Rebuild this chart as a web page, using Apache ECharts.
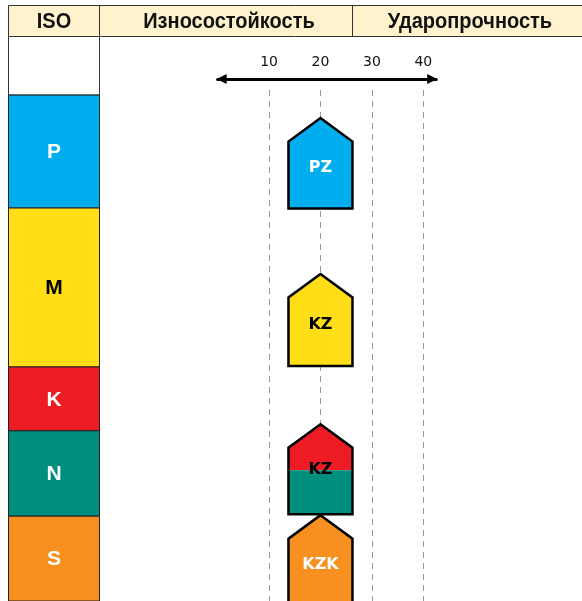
<!DOCTYPE html>
<html>
<head>
<meta charset="utf-8">
<script src="https://cdn.jsdelivr.net/npm/echarts@6/dist/echarts.min.js"></script>
<style>
html,body{margin:0;padding:0;background:#fff;}
#chart{width:582px;height:601px;}
</style>
</head>
<body>
<div id="chart"></div>
<script>
// ---- data ----
const headers = ['ISO', 'Износостойкость', 'Ударопрочность'];
const isoGroups = ['P', 'M', 'K', 'N', 'S'];
const isoStart = [1.0, 23.1, 54.2, 66.7, 83.4];
const isoEnd = [23.1, 54.2, 66.7, 83.4, 100];
const gradeNames = ['PZ', 'KZ', 'KZ', 'KZK'];
const gradeCenter = [20, 20, 20, 20];
const gradeTop = [5.5, 36.0, 65.4, 83.2];
const gradeSplit = [null, null, 74.4, null];
const gradeBottom = [23.2, 54.0, 83.0, 100.6];
const gradeUpperGroup = ['P', 'M', 'K', 'S'];
const gradeLowerGroup = ['P', 'M', 'N', 'S'];
const scaleMin = 0, scaleMax = 42.5, scaleStep = 10;

// ---- styles ----
const groupColor = { P: '#00AEEF', M: '#FFDE17', K: '#ED1C24', N: '#008E7F', S: '#F7901E' };
const groupText = { P: '#ffffff', M: '#000000', K: '#ffffff', N: '#ffffff', S: '#ffffff' };
const gradeText = ['#ffffff', '#000000', '#000000', '#ffffff'];
const headerFont = 'bold 20px "Liberation Sans", Arial, sans-serif';

const chart = echarts.init(document.getElementById('chart'), null, { renderer: 'canvas' });

function renderIso(params, api) {
  const g = isoGroups[params.dataIndex];
  const p0 = api.coord([0, api.value(0)]);
  const p1 = api.coord([1, api.value(1)]);
  return {
    type: 'group',
    children: [
      { type: 'rect', shape: { x: p0[0], y: p0[1], width: p1[0] - p0[0], height: p1[1] - p0[1] },
        style: { fill: groupColor[g], stroke: '#222', lineWidth: 1 } },
      { type: 'text', x: (p0[0] + p1[0]) / 2, y: (p0[1] + p1[1]) / 2 + 1,
        style: { text: g, fill: groupText[g], font: 'bold 21px "Liberation Sans", Arial, sans-serif', align: 'center', verticalAlign: 'middle' } }
    ]
  };
}

function renderGrade(params, api) {
  const i = params.dataIndex;
  const cx = api.coord([api.value(0), 0])[0];
  const yTop = api.coord([0, api.value(1)])[1];
  const yBot = api.coord([0, api.value(3)])[1];
  const split = gradeSplit[i];
  const half = 32, head = 23.5;
  const yS = yTop + head;
  const outline = [[cx, yTop], [cx + half, yS], [cx + half, yBot], [cx - half, yBot], [cx - half, yS]];
  const children = [];
  let labelY = (yS + yBot) / 2 - 7;
  if (split != null) {
    const ySp = api.coord([0, split])[1];
    children.push({ type: 'polygon', shape: { points: [[cx, yTop], [cx + half, yS], [cx + half, ySp], [cx - half, ySp], [cx - half, yS]] },
      style: { fill: groupColor[gradeUpperGroup[i]] } });
    children.push({ type: 'rect', shape: { x: cx - half, y: ySp, width: half * 2, height: yBot - ySp },
      style: { fill: groupColor[gradeLowerGroup[i]] } });
    labelY = ySp;
  } else {
    children.push({ type: 'polygon', shape: { points: outline }, style: { fill: groupColor[gradeUpperGroup[i]] } });
  }
  children.push({ type: 'polygon', shape: { points: outline }, style: { fill: 'none', stroke: '#000', lineWidth: 2.5, lineJoin: 'miter' } });
  children.push({ type: 'text', x: cx, y: labelY,
    style: { text: gradeNames[i], fill: gradeText[i], font: 'bold 16px "DejaVu Sans", Verdana, sans-serif', align: 'center', verticalAlign: 'middle' } });
  return { type: 'group', children };
}

const headerText = (t, x) => ({ type: 'text', x: x, y: 22, scaleY: 1.1,
  style: { text: t, font: headerFont, fill: '#111', align: 'center', verticalAlign: 'middle' } });

const option = {
  animation: false,
  grid: [
    { left: 217.6, width: 218.6, top: 90, height: 511 },
    { left: 8.5, width: 91, top: 90, height: 511 }
  ],
  xAxis: [
    {
      gridIndex: 0, type: 'value', position: 'top', offset: 11,
      min: scaleMin, max: scaleMax, interval: scaleStep,
      axisLine: { show: true, onZero: false, lineStyle: { color: '#000', width: 3 }, symbol: ['triangle', 'triangle'], symbolSize: [10, 10], symbolOffset: [4, -4] },
      axisTick: { show: false },
      axisLabel: { show: true, margin: 10, color: '#111', fontSize: 14, fontFamily: '"DejaVu Sans", Verdana, sans-serif', showMinLabel: false, showMaxLabel: false },
      splitLine: { show: true, showMinLine: false, showMaxLine: false, lineStyle: { color: '#999', width: 1, type: [6, 5] } }
    },
    { gridIndex: 1, type: 'value', min: 0, max: 1, show: false }
  ],
  yAxis: [
    { gridIndex: 0, type: 'value', min: 0, max: 100, inverse: true, show: false, splitLine: { show: false } },
    { gridIndex: 1, type: 'value', min: 0, max: 100, inverse: true, show: false, splitLine: { show: false } }
  ],
  graphic: [
    { type: 'rect', shape: { x: 8.5, y: 5.5, width: 580, height: 31 }, style: { fill: '#FFF2CC', stroke: '#333', lineWidth: 1 } },
    { type: 'line', shape: { x1: 99.5, y1: 5.5, x2: 99.5, y2: 36.5 }, style: { stroke: '#333', lineWidth: 1 } },
    { type: 'line', shape: { x1: 352.5, y1: 5.5, x2: 352.5, y2: 36.5 }, style: { stroke: '#333', lineWidth: 1 } },
    headerText(headers[0], 54),
    headerText(headers[1], 229),
    headerText(headers[2], 470),
    { type: 'rect', shape: { x: 8.5, y: 36.5, width: 91, height: 58.5 }, style: { fill: '#fff', stroke: '#333', lineWidth: 1 } }
  ],
  series: [
    {
      type: 'custom', xAxisIndex: 1, yAxisIndex: 1, clip: false,
      data: isoGroups.map((g, i) => [isoStart[i], isoEnd[i]]),
      renderItem: renderIso
    },
    {
      type: 'custom', xAxisIndex: 0, yAxisIndex: 0, clip: false, z: 5,
      data: gradeNames.map((n, i) => [gradeCenter[i], gradeTop[i], gradeSplit[i] == null ? 0 : gradeSplit[i], gradeBottom[i]]),
      renderItem: renderGrade
    }
  ]
};
chart.setOption(option);
</script>
</body>
</html>
